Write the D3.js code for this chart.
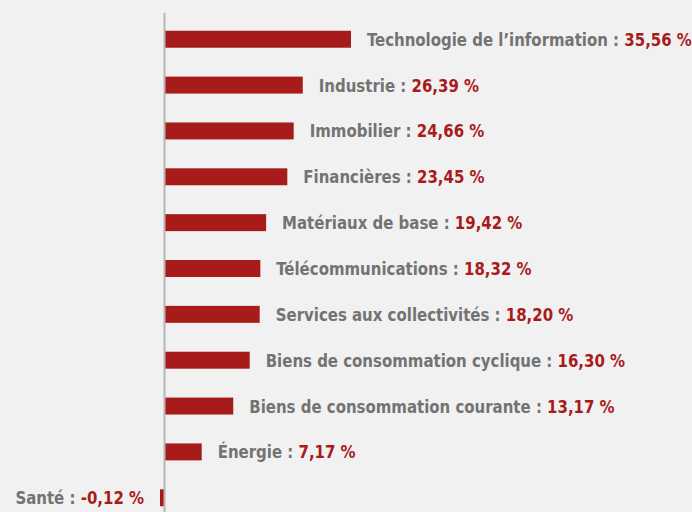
<!DOCTYPE html>
<html>
<head>
<meta charset="utf-8">
<script src="https://cdn.jsdelivr.net/npm/d3@7"></script>
<style>
  html, body { margin: 0; padding: 0; background: #f1f1f1; }
  svg { display: block; }
  .lbl { font-family: "Liberation Sans Narrow", "DejaVu Sans Condensed", sans-serif; font-weight: bold; font-stretch: condensed; }
</style>
</head>
<body>
<div id="chart"></div>
<script>
// Data
const sectors = [
  "Technologie de l\u2019information",
  "Industrie",
  "Immobilier",
  "Financières",
  "Matériaux de base",
  "Télécommunications",
  "Services aux collectivités",
  "Biens de consommation cyclique",
  "Biens de consommation courante",
  "Énergie",
  "Santé"
];
const returns = [35.56, 26.39, 24.66, 23.45, 19.42, 18.32, 18.20, 16.30, 13.17, 7.17, -0.12];

// Constants
const width = 692;
const height = 512;
const COLOR_BAR = "#a81b1b";
const COLOR_LABEL = "#737373";
const COLOR_AXIS = "#b5b5b5";
const FONT_SIZE = 18.5;
const SQUEEZE = 0.9; // narrow the condensed font a little more

const data = sectors.map((s, i) => ({ name: s, value: returns[i] }));

const x = d3.scaleLinear().domain([0, 35.56]).range([164, 351]);
const y = d3.scaleBand().domain(sectors).range([17, 520]).paddingInner(0.63).paddingOuter(0.3);

const fmt = v => v.toFixed(2).replace(".", ",") + " %";

const svg = d3.select("#chart")
  .append("svg")
  .attr("width", width)
  .attr("height", height);

// bars (tiny values get a minimum visible width)
svg.selectAll(".bar")
  .data(data)
  .join("rect")
  .attr("class", "bar")
  .attr("x", d => d.value >= 0 ? x(0) : x(0) - Math.max(x(0) - x(d.value), 4))
  .attr("y", d => y(d.name))
  .attr("width", d => Math.max(Math.abs(x(d.value) - x(0)), 4))
  .attr("height", y.bandwidth())
  .attr("fill", COLOR_BAR);

// vertical axis line
svg.append("line")
  .attr("x1", x(0) + 0.5)
  .attr("x2", x(0) + 0.5)
  .attr("y1", 13)
  .attr("y2", height)
  .attr("stroke", COLOR_AXIS)
  .attr("stroke-width", 2);

// labels
const labels = svg.selectAll(".lbl")
  .data(data)
  .join("text")
  .attr("class", "lbl")
  .attr("font-size", FONT_SIZE)
  .attr("transform", d => {
    const tx = d.value >= 0 ? x(d.value) + 16 : x(0) - 4 - 16;
    const ty = y(d.name) + y.bandwidth() / 2 + 6.5;
    return `translate(${tx},${ty}) scale(${SQUEEZE},1)`;
  })
  .attr("text-anchor", d => d.value >= 0 ? "start" : "end");

labels.append("tspan")
  .attr("fill", COLOR_LABEL)
  .text(d => d.name + " : ");
labels.append("tspan")
  .attr("fill", COLOR_BAR)
  .text(d => fmt(d.value));
</script>
</body>
</html>
